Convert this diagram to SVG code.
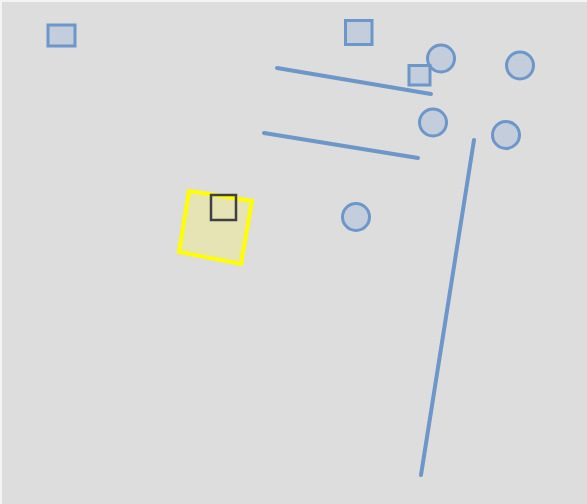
<svg xmlns="http://www.w3.org/2000/svg" width="587" height="504" viewBox="0 0 587 504">
<style>
.n{fill:#c3cddb;stroke:#6d96c9;stroke-width:3}
.l{fill:none;stroke:#6d96c9;stroke-width:4;stroke-linecap:round}
</style>
<rect x="0" y="0" width="587" height="504" fill="#f4f4f4"/>
<rect x="2" y="2" width="585" height="502" fill="#dddddd"/>
<g id="connectors">
<line class="l" x1="277" y1="68" x2="431" y2="94"/>
<line class="l" x1="264" y1="133" x2="418" y2="158"/>
<line class="l" x1="474" y1="140" x2="421" y2="475"/>
</g>
<g id="node-yellow">
<polygon points="189,191 252,201 241,264 179,252" fill="#e6e4b4" stroke="#ffff00" stroke-width="4" stroke-linejoin="miter"/>
</g>
<g id="node-dark">
<rect x="211" y="195" width="25" height="25" fill="none" stroke="#404040" stroke-width="2.5"/>
</g>
<g id="node-r1"><rect class="n" x="48" y="25" width="27" height="21"/></g>
<g id="node-r2"><rect class="n" x="345.5" y="20.5" width="26.5" height="24"/></g>
<g id="node-c1"><circle class="n" cx="441" cy="58.5" r="13.5"/></g>
<g id="node-r3"><rect class="n" x="409" y="65.5" width="21" height="19.5"/></g>
<g id="node-c2"><circle class="n" cx="520" cy="65.5" r="13.5"/></g>
<g id="node-c3"><circle class="n" cx="433" cy="122.5" r="13.5"/></g>
<g id="node-c4"><circle class="n" cx="506" cy="135" r="13.5"/></g>
<g id="node-c5"><circle class="n" cx="356" cy="217" r="13.5"/></g>
</svg>
